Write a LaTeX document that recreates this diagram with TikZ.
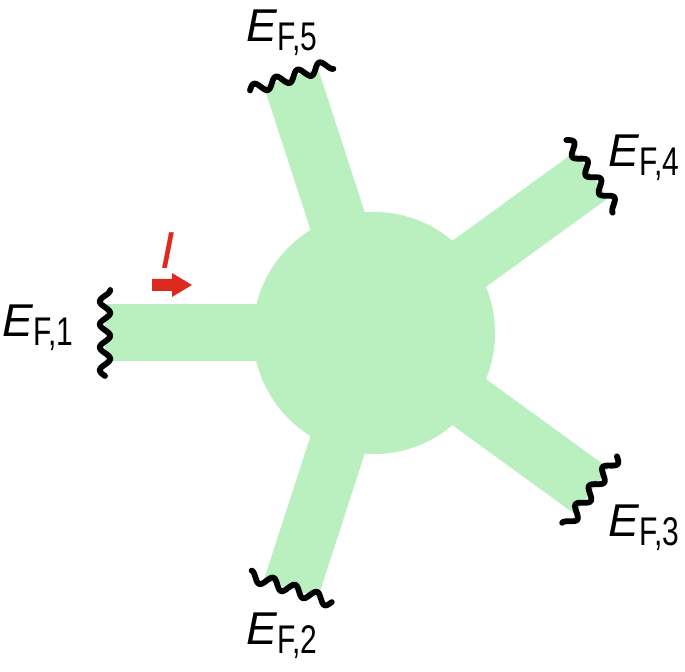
\documentclass[tikz,border=0pt]{standalone}
\usepackage{fontspec}
\setmainfont{Liberation Sans}
\usepackage{graphicx}
\usepackage{tikz}
\usetikzlibrary{calc}
\definecolor{armGreen}{RGB}{186, 240, 192}
\definecolor{currRed}{RGB}{222, 42, 30}
\newcommand{\eflabel}[1]{\textit{E}\raisebox{-4.5pt}{\fontsize{20}{20}\selectfont\scalebox{0.75}[1]{F,#1}}}
\tikzset{
  armfill/.style={
    fill=armGreen, draw=none
  },
  wavy/.style={
    draw=black, line width=2.9pt, line cap=round, line join=round
  },
  flabel/.style={
    anchor=base west, inner sep=0pt,
    font=\fontsize{23}{23}\selectfont
  }
}
\begin{document}
\begin{tikzpicture}[x=0.5pt, y=0.5pt]

  \useasboundingbox (0,0) rectangle (685,672);

  % ── Central disc ──────────────────────────────────────────────────────────
  \coordinate (hub) at (374,339);
  \fill[armfill] (hub) circle (121);

  % ── Five arms with rough ends ─────────────────────────────────────────────
  \foreach \a in {180,108,36,-36,-108}{
    \begin{scope}[shift={(374,339)}, rotate=\a]
      \fill[armfill] (0,-28.5) rectangle (269,28.5);
      \draw[wavy] plot[domain=-43:43, samples=90, smooth]
        ({269+5.2*sin(15.7*(\x+43)-90)}, \x);
    \end{scope}
  }

  % ── Terminal labels ───────────────────────────────────────────────────────
  \node[flabel] (ef1) at (2,335) {\eflabel{1}};
  \node[flabel] (ef2) at (246,27) {\eflabel{2}};
  \node[flabel] (ef3) at (608,135) {\eflabel{3}};
  \node[flabel] (ef4) at (608,505) {\eflabel{4}};
  \node[flabel] (ef5) at (246,630) {\eflabel{5}};

  % ── Current marker ────────────────────────────────────────────────────────
  \fill[currRed] (152,381) -- (172,381) -- (172,375) -- (192,387)
    -- (172,399) -- (172,393) -- (152,393) -- cycle;
  \node[font=\fontsize{26}{26}\selectfont\itshape, text=currRed, inner sep=0pt]
    (cur) at (168,421) {I};

\end{tikzpicture}
\end{document}
